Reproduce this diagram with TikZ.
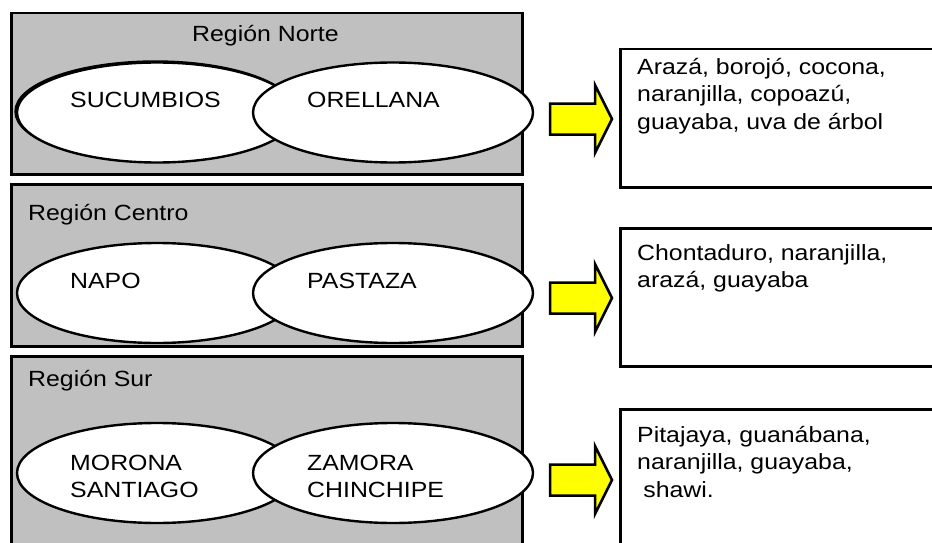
\documentclass[tikz,border=0pt]{standalone}
\usepackage{fontspec}
\setmainfont[FakeStretch=1.13]{Liberation Sans}
\usetikzlibrary{shapes.geometric}
\definecolor{regfill}{HTML}{C0C0C0}
\definecolor{arrowfill}{HTML}{FFFF00}
\tikzset{
  regionbox/.style={draw=black, fill=regfill, line width=2.5pt, anchor=north west,
    inner sep=0pt, minimum width=511pt},
  fruitbox/.style={draw=black, fill=white, line width=2.5pt, anchor=north west,
    inner sep=0pt, minimum width=340pt},
  prov/.style={ellipse, draw=black, fill=white, line width=2.4pt,
    minimum width=280pt, minimum height=100pt, inner sep=0pt},
  txt/.style={anchor=base west, inner sep=0pt, align=left,
    font=\fontsize{22}{27.5}\selectfont},
  fatarrow/.style={draw=black, fill=arrowfill, line width=2.5pt, line join=miter}
}
\begin{document}
\begin{tikzpicture}[x=1pt, y=-1pt]
  \useasboundingbox (0,0) rectangle (932,543);
  \clip (0,0) rectangle (932,543);

  % region panels
  \node[regionbox, minimum height=161pt] (norte)  at (10,12)  {};
  \node[regionbox, minimum height=162pt] (centro) at (10,183) {};
  \node[regionbox, minimum height=220pt] (sur)    at (10,355) {};

  \node[txt] (tNorte)  at (192,42)  {Región Norte};
  \node[txt] (tCentro) at (28,220)  {Región Centro};
  \node[txt] (tSur)    at (28,386)  {Región Sur};

  % provinces, north
  \node[draw=black, ellipse, line width=2.4pt, minimum width=280pt,
        minimum height=100pt] (sucShade) at (155.5,111.5) {};
  \node[prov] (suc) at (157,112.5) {};
  \node[prov] (ore) at (393,112.5) {};
  \node[txt] (tSuc) at (70,107)  {SUCUMBIOS};
  \node[txt] (tOre) at (307,107) {ORELLANA};

  % provinces, centre
  \node[prov] (napo) at (157,293) {};
  \node[prov] (pas)  at (393,293) {};
  \node[txt] (tNapo) at (70,288)  {NAPO};
  \node[txt] (tPas)  at (307,288) {PASTAZA};

  % provinces, south (multi-line nodes sit on their last baseline)
  \node[prov] (mor) at (157,473) {};
  \node[prov] (zam) at (393,473) {};
  \node[txt] (tMor) at (70,497.5)  {MORONA\\SANTIAGO};
  \node[txt] (tZam) at (307,497.5) {ZAMORA\\CHINCHIPE};

  % block arrows
  \foreach \c in {119,298,480}{
    \draw[fatarrow] (550,\c-15.5) -- (595,\c-15.5) -- (595,\c-34) -- (612,\c)
      -- (595,\c+34) -- (595,\c+15.5) -- (550,\c+15.5) -- cycle;
  }

  % fruit lists
  \node[fruitbox, minimum height=138pt] (f1) at (619,48)  {};
  \node[fruitbox, minimum height=138pt] (f2) at (619,227) {};
  \node[fruitbox, minimum height=160pt] (f3) at (619,408) {};

  \node[txt] (l1) at (637,129)   {Arazá, borojó, cocona,\\naranjilla, copoazú,\\guayaba, uva de árbol};
  \node[txt] (l2) at (637,287.5) {Chontaduro, naranjilla,\\arazá, guayaba};
  \node[txt] (l3) at (637,497)   {Pitajaya, guanábana,\\naranjilla, guayaba,\\\hspace*{0.28em}shawi.};
\end{tikzpicture}
\end{document}
